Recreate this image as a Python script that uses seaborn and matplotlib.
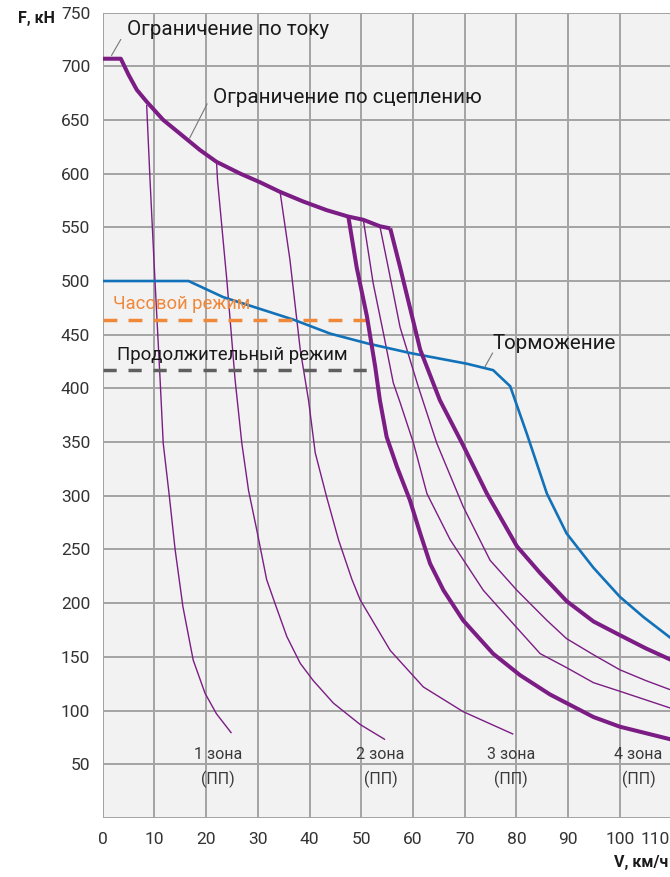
import matplotlib
matplotlib.use("Agg")
import matplotlib.pyplot as plt
import matplotlib.transforms as mtransforms
import seaborn as sns

# tractive effort envelope (current limit + adhesion limit)
envelope_v = [0, 3.5, 5, 6.6, 8.5, 11.7, 15, 18.8, 22, 26.6, 30.4, 34.3, 38.8, 43.3, 47.5, 50.4, 53.6, 55.6]
envelope_f = [707, 707, 692, 678, 667, 650, 637, 622, 611, 600, 592, 583, 574, 566, 560, 557, 551, 549]

# zone 4, thick curves
z4_upper_v = [55.6, 57.5, 61.4, 65.2, 69.7, 74.3, 80.1, 84.6, 89.7, 94.9, 99.7, 105, 110]
z4_upper_f = [549, 513, 436, 389, 347, 302, 253, 228, 202, 183, 171, 158, 147]
z4_lower_v = [47.5, 49.1, 51.1, 52.7, 53.6, 54.9, 56.9, 59.4, 61.4, 63.3, 65.9, 69.7, 75.5, 80.7, 86.5, 89.7, 94.9, 100, 105, 110]
z4_lower_f = [560, 513, 467, 420, 389, 355, 327, 296, 265, 237, 212, 184, 153, 133, 115, 107, 94, 85, 79, 73]

# zone 4, thin curves
z4_thin1_v = [50.4, 52.3, 54.3, 56.2, 57.5, 60.1, 62.7, 67.2, 73.6, 80.1, 84.6, 89.7, 94.9, 100, 105, 110]
z4_thin1_f = [557, 498, 451, 405, 387, 349, 302, 259, 212, 177, 153, 140, 126, 118, 110, 102]
z4_thin2_v = [53.6, 55.2, 57.5, 61.0, 64.6, 69.7, 74.9, 80.1, 85.9, 89.7, 94.9, 100, 105, 110]
z4_thin2_f = [551, 513, 457, 402, 349, 290, 240, 212, 184, 167, 152, 138, 128, 119]

# zones 1-3
z1_v = [8.5, 9.15, 10.1, 11.1, 11.7, 12.9, 14.0, 15.5, 17.5, 19.8, 22.0, 24.9]
z1_f = [664, 594, 501, 408, 349, 299, 250, 197, 147, 116, 97, 79]
z2_v = [22.0, 22.2, 24.0, 25.6, 26.9, 28.2, 29.8, 31.7, 33.3, 35.6, 38.2, 40.7, 44.6, 49.8, 54.6]
z2_f = [612, 594, 501, 408, 349, 305, 268, 222, 200, 169, 144, 128, 107, 87, 73]
z3_v = [34.3, 36.2, 38.2, 39.8, 41.1, 43.3, 45.6, 48.2, 49.8, 55.6, 62.0, 69.7, 79.4]
z3_f = [583, 520, 436, 389, 340, 299, 259, 222, 203, 156, 122, 99, 78]

# braking
brake_v = [0, 16.6, 23.3, 29.8, 36.9, 44.0, 51.1, 59.4, 70.4, 75.5, 78.8, 82.0, 85.9, 89.7, 94.9, 100, 104.6, 110]
brake_f = [500, 500, 485, 475, 464, 451, 442, 433, 423, 417, 402, 358, 302, 265, 233, 206, 187, 167]

# hourly / continuous ratings
hour_v = [0, 51.1]
hour_f = [464, 464]
cont_v = [0, 51.1]
cont_f = [417, 417]

zone_labels = ["1 зона\n(ПП)", "2 зона\n(ПП)", "3 зона\n(ПП)", "4 зона\n(ПП)"]
zone_pos = [22.3, 53.7, 79.0, 103.6]

x_ticks = list(range(0, 111, 10))
y_ticks = list(range(50, 751, 50))

purple = "#7b1d84"
blue = "#1272b9"
orange = "#f0883a"
dark_gray = "#5f5f5f"

sns.set_theme(style="white")
plt.rcParams["font.family"] = ["Roboto", "DejaVu Sans"]

fig = plt.figure(figsize=(6.7, 8.77), dpi=100)
ax = fig.add_axes([0.1533, 0.0673, 0.849, 0.9184])
ax.set_facecolor("#f2f2f2")

def draw(v, f, color, lw, **kw):
    sns.lineplot(x=v, y=f, ax=ax, color=color, linewidth=lw, sort=False,
                 estimator=None, solid_capstyle="butt", **kw)

for v, f in [(z1_v, z1_f), (z2_v, z2_f), (z3_v, z3_f), (z4_thin1_v, z4_thin1_f), (z4_thin2_v, z4_thin2_f)]:
    draw(v, f, purple, 1.0)

draw(brake_v, brake_f, blue, 1.9)

ax.plot(hour_v, hour_f, color=orange, linewidth=2.5, dashes=(4.0, 3.2))
ax.plot(cont_v, cont_f, color=dark_gray, linewidth=2.5, dashes=(3.8, 3.4))

draw(envelope_v, envelope_f, purple, 2.9)
draw(z4_upper_v, z4_upper_f, purple, 2.9)
draw(z4_lower_v, z4_lower_f, purple, 2.9)

ax.set_xlim(0, 110)
ax.set_ylim(0, 750)
ax.set_xticks(x_ticks)
ax.set_yticks(y_ticks)
ax.grid(True, color="#a3a3a3", linewidth=1.4)
ax.set_axisbelow(True)
for s in ax.spines.values():
    s.set_visible(False)
ax.axvline(0, color="#a3a3a3", linewidth=1.4, zorder=0.5)
ax.axhline(0, color="#a3a3a3", linewidth=1.4, zorder=0.5)
ax.axhline(750, color="#a3a3a3", linewidth=1.4, zorder=0.5)
ax.tick_params(axis="both", length=0, labelsize=12.5, labelcolor="#333333")
ax.tick_params(axis="y", pad=9)
ax.tick_params(axis="x", pad=10)
ax.set_xlabel("")
ax.set_ylabel("")

# keep the last x tick label inside the picture
last = ax.get_xticklabels()[-1]
last.set_transform(last.get_transform() + mtransforms.ScaledTranslation(-16 / 100, 0, fig.dpi_scale_trans))

# annotations
txt = dict(fontsize=14.8, color="#1a1a1a", va="center", ha="left")
ax.text(4.7, 734, "Ограничение по току", **txt)
ax.plot([1.7, 3.5], [710, 725], color="#777777", linewidth=0.8)
ax.text(21.3, 671, "Ограничение по сцеплению", **txt)
ax.plot([16.8, 20.2], [633, 665], color="#777777", linewidth=0.8)
ax.text(75.3, 442, "Торможение", **txt)
ax.plot([73.9, 75.4], [420, 433], color="#777777", linewidth=0.8)
ax.text(2.0, 479, "Часовой режим", fontsize=13.2, color=orange, va="center", ha="left")
ax.text(2.8, 431, "Продолжительный режим", fontsize=13.4, color="#1a1a1a", va="center", ha="left")

for lab, x in zip(zone_labels, zone_pos):
    ax.text(x, 47, lab, fontsize=11.5, color="#3a3a3a", ha="center", va="center",
            linespacing=1.6)

fig.text(0.027, 0.979, "F, кН", fontsize=11.5, fontweight="bold", color="#1a1a1a",
         ha="left", va="center")
fig.text(0.997, 0.017, "V, км/ч", fontsize=11.5, fontweight="bold", color="#1a1a1a",
         ha="right", va="center")

fig.savefig("out.png", dpi=100)
